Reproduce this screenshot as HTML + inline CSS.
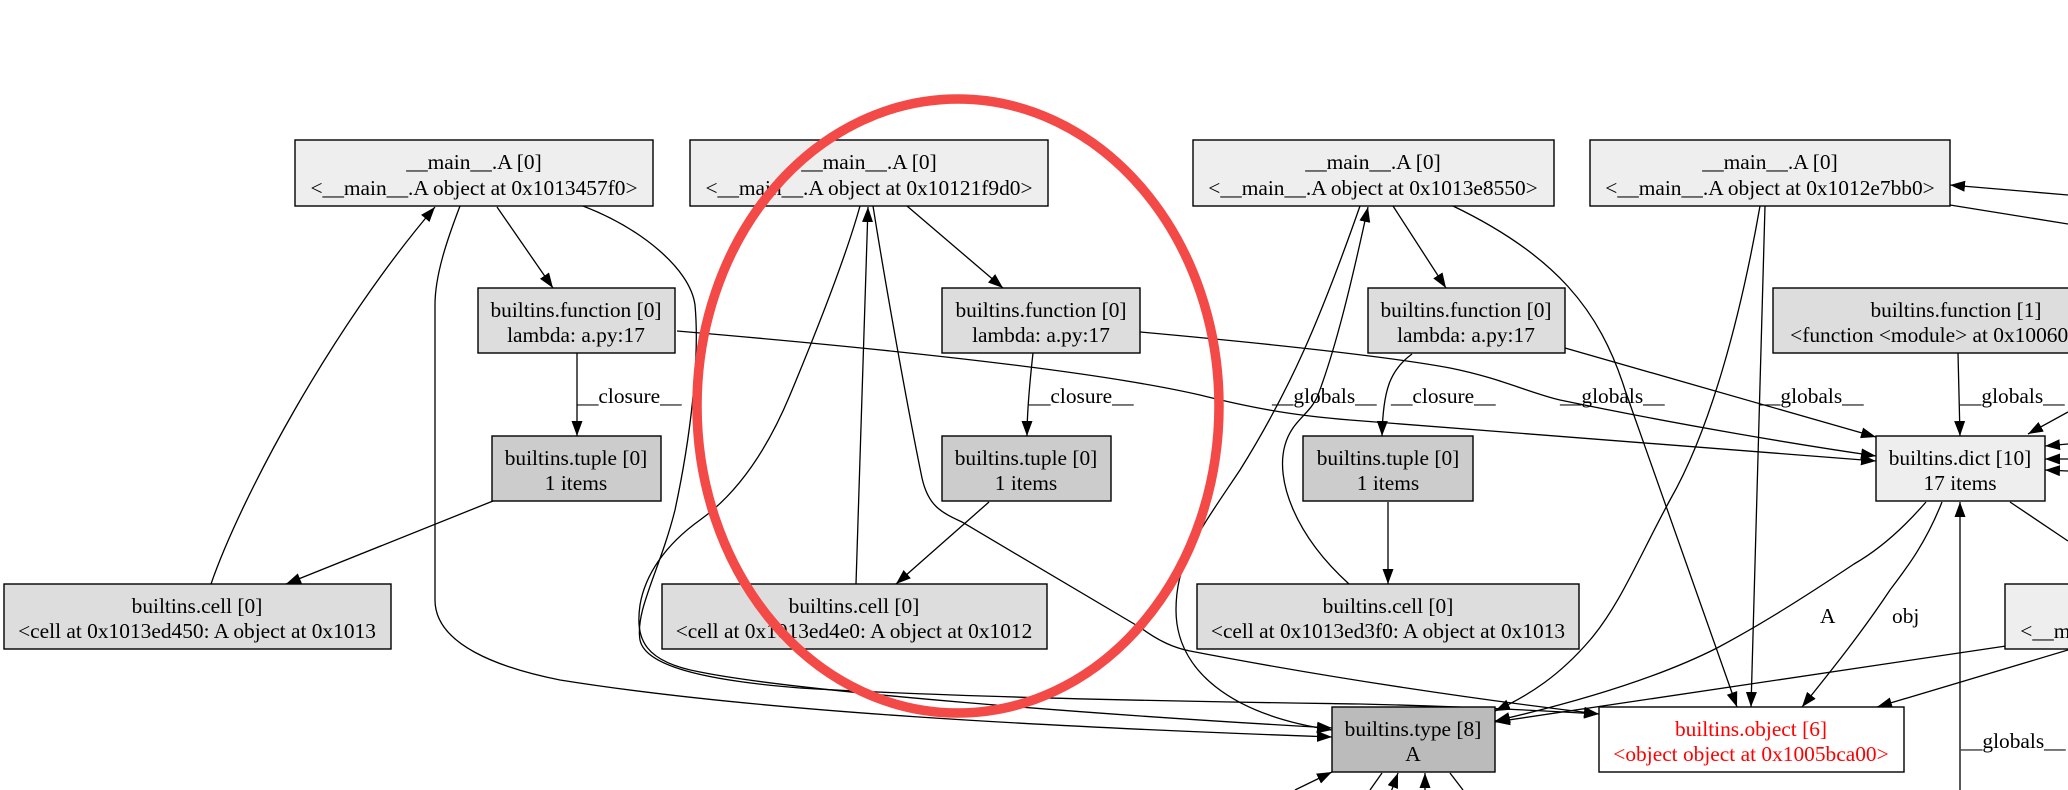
<!DOCTYPE html>
<html><head><meta charset="utf-8"><style>
html,body{margin:0;padding:0;background:#fff;width:2068px;height:790px;overflow:hidden}
svg{display:block}
text{font-family:"Liberation Serif","Times New Roman",serif;font-size:21.4px;fill:#000}
.n{stroke:#000;stroke-width:1.4}
.e{fill:none;stroke:#000;stroke-width:1.3}
</style></head><body>
<svg width="2068" height="790" viewBox="0 0 2068 790" xmlns="http://www.w3.org/2000/svg">
<defs>
<marker id="a" markerWidth="16" markerHeight="12" refX="15" refY="5.5" orient="auto" markerUnits="userSpaceOnUse"><path d="M0,0 L15,5.5 L0,11 z" fill="#000"/></marker>
</defs>

<!-- edges -->
<g class="e">
<path d="M497,207 L553,288" marker-end="url(#a)"/>
<path d="M460,206 C447,240 435,275 435,305 L435,600 C435,645 500,668 560,680 C760,712 1050,727 1332,737" marker-end="url(#a)"/>
<path d="M583,206 C640,228 690,268 695,305 C700,360 690,440 675,510 C660,570 635,610 640,640 C645,665 700,680 800,688 C1000,700 1300,703 1360,704 C1450,706 1530,710 1599,714" marker-end="url(#a)"/>
<path d="M211,584 C240,500 330,330 435,207" marker-end="url(#a)"/>
<path d="M493,501 L286,584" marker-end="url(#a)"/>
<path d="M577,353 L577,436" marker-end="url(#a)"/>
<path d="M677,331 C900,350 1100,372 1200,395 C1260,410 1300,416 1350,420 L1876,461" marker-end="url(#a)"/>
<path d="M1140,332 C1250,342 1380,355 1450,368 C1500,378 1530,393 1560,400 C1680,425 1800,445 1876,456" marker-end="url(#a)"/>
<path d="M1565,348 L1876,437" marker-end="url(#a)"/>
<path d="M1958,353 L1960,436" marker-end="url(#a)"/>
<path d="M907,206 L1003,288" marker-end="url(#a)"/>
<path d="M856,584 L868,207" marker-end="url(#a)"/>
<path d="M860,206 C845,260 815,335 790,395 C765,455 735,495 700,520 C665,545 645,575 640,605 C635,640 645,662 700,672 C800,692 1100,715 1332,728" marker-end="url(#a)"/>
<path d="M873,206 C888,300 910,420 922,478 C928,505 940,512 962,522 L1141,628 C1160,642 1175,648 1190,651 C1330,678 1480,700 1599,714" marker-end="url(#a)"/>
<path d="M1033,353 C1030,380 1027,410 1027,436" marker-end="url(#a)"/>
<path d="M989,502 L896,584" marker-end="url(#a)"/>
<path d="M1393,206 L1446,288" marker-end="url(#a)"/>
<path d="M1349,584 C1295,535 1275,480 1285,445 C1292,420 1310,415 1318,395 C1335,350 1350,290 1368,207" marker-end="url(#a)"/>
<path d="M1360,206 C1320,320 1290,390 1240,470 C1200,530 1176,560 1176,610 C1176,670 1230,715 1332,730" marker-end="url(#a)"/>
<path d="M1453,206 C1555,255 1600,310 1625,390 L1737,707" marker-end="url(#a)"/>
<path d="M1412,354 C1390,370 1383,390 1382,436" marker-end="url(#a)"/>
<path d="M1388,502 L1388,584" marker-end="url(#a)"/>
<path d="M1760,206 C1740,320 1710,430 1670,500 C1640,555 1620,605 1590,640 C1560,675 1530,695 1495,711" marker-end="url(#a)"/>
<path d="M1765,206 L1751,707" marker-end="url(#a)"/>
<path d="M2068,195 L1950,185" marker-end="url(#a)"/>
<path d="M1950,205 L2068,224"/>
<path d="M1926,502 C1900,532 1875,552 1854,564 C1800,600 1760,625 1717,648 C1650,682 1560,706 1495,721" marker-end="url(#a)"/>
<path d="M1942,502 C1925,545 1905,570 1890,590 C1860,635 1830,672 1802,707" marker-end="url(#a)"/>
<path d="M2010,502 L2068,541"/>
<path d="M2006,646 L1495,722" marker-end="url(#a)"/>
<path d="M2068,650 L1877,707" marker-end="url(#a)"/>
<path d="M1960,790 L1960,502" marker-end="url(#a)"/>
<path d="M2068,444 L2045,446" marker-end="url(#a)"/>
<path d="M2068,459 L2045,459" marker-end="url(#a)"/>
<path d="M2068,471 L2045,470" marker-end="url(#a)"/>
<path d="M2068,412 L2028,434" marker-end="url(#a)"/>
<path d="M1295,790 L1332,772" marker-end="url(#a)"/>
<path d="M1370,790 L1382,773"/>
<path d="M1391,792 L1398,773" marker-end="url(#a)"/>
<path d="M1425,792 L1425,773" marker-end="url(#a)"/>
<path d="M1450,773 L1463,790"/>
</g>

<!-- edge labels -->
<text x="577" y="403">__closure__</text>
<text x="1029" y="403">__closure__</text>
<text x="1391" y="403">__closure__</text>
<text x="1272" y="403">__globals__</text>
<text x="1560" y="403">__globals__</text>
<text x="1759" y="403">__globals__</text>
<text x="1960" y="403">__globals__</text>
<text x="1820" y="623">A</text>
<text x="1892" y="623">obj</text>
<text x="1961" y="748">__globals__</text>

<!-- nodes -->
<g class="n">
<rect x="295" y="140" width="358" height="66" fill="#eeeeee"/>
<rect x="690" y="140" width="358" height="66" fill="#eeeeee"/>
<rect x="1193" y="140" width="361" height="66" fill="#eeeeee"/>
<rect x="1590" y="140" width="360" height="66" fill="#eeeeee"/>
<rect x="478" y="288" width="197" height="65" fill="#dddddd"/>
<rect x="942" y="288" width="198" height="65" fill="#dddddd"/>
<rect x="1368" y="288" width="197" height="65" fill="#dddddd"/>
<rect x="1773" y="288" width="370" height="65" fill="#dddddd"/>
<rect x="492" y="436" width="169" height="65" fill="#cccccc"/>
<rect x="942" y="436" width="169" height="65" fill="#cccccc"/>
<rect x="1303" y="436" width="170" height="65" fill="#cccccc"/>
<rect x="1876" y="436" width="169" height="65" fill="#eeeeee"/>
<rect x="4" y="584" width="387" height="65" fill="#dddddd"/>
<rect x="662" y="584" width="385" height="65" fill="#dddddd"/>
<rect x="1197" y="584" width="382" height="65" fill="#dddddd"/>
<rect x="2005" y="584" width="360" height="65" fill="#eeeeee"/>
<rect x="1332" y="707" width="163" height="65" fill="#bbbbbb"/>
<rect x="1599" y="707" width="305" height="65" fill="#ffffff"/>
</g>

<g text-anchor="middle">
<text x="474" y="169">__main__.A [0]</text>
<text x="474" y="195">&lt;__main__.A object at 0x1013457f0&gt;</text>
<text x="869" y="169">__main__.A [0]</text>
<text x="869" y="195">&lt;__main__.A object at 0x10121f9d0&gt;</text>
<text x="1373" y="169">__main__.A [0]</text>
<text x="1373" y="195">&lt;__main__.A object at 0x1013e8550&gt;</text>
<text x="1770" y="169">__main__.A [0]</text>
<text x="1770" y="195">&lt;__main__.A object at 0x1012e7bb0&gt;</text>

<text x="576" y="317">builtins.function [0]</text>
<text x="576" y="342">lambda: a.py:17</text>
<text x="1041" y="317">builtins.function [0]</text>
<text x="1041" y="342">lambda: a.py:17</text>
<text x="1466" y="317">builtins.function [0]</text>
<text x="1466" y="342">lambda: a.py:17</text>
<text x="1956" y="317">builtins.function [1]</text>
<text x="1956" y="342">&lt;function &lt;module&gt; at 0x1006044a0&gt;</text>

<text x="576" y="465">builtins.tuple [0]</text>
<text x="576" y="490">1 items</text>
<text x="1026" y="465">builtins.tuple [0]</text>
<text x="1026" y="490">1 items</text>
<text x="1388" y="465">builtins.tuple [0]</text>
<text x="1388" y="490">1 items</text>
<text x="1960" y="465">builtins.dict [10]</text>
<text x="1960" y="490">17 items</text>

<text x="197" y="613">builtins.cell [0]</text>
<text x="197" y="638">&lt;cell at 0x1013ed450: A object at 0x1013</text>
<text x="854" y="613">builtins.cell [0]</text>
<text x="854" y="638">&lt;cell at 0x1013ed4e0: A object at 0x1012</text>
<text x="1388" y="613">builtins.cell [0]</text>
<text x="1388" y="638">&lt;cell at 0x1013ed3f0: A object at 0x1013</text>
<text x="2185" y="613">__main__.A [0]</text>
<text x="2185" y="638">&lt;__main__.A object at 0x1013e8b20&gt;</text>

<text x="1413" y="736">builtins.type [8]</text>
<text x="1413" y="761">A</text>
<text x="1751" y="736" style="fill:#ff0000">builtins.object [6]</text>
<text x="1751" y="761" style="fill:#ff0000">&lt;object object at 0x1005bca00&gt;</text>
</g>

<!-- red annotation ellipse -->
<ellipse cx="958" cy="406" rx="261" ry="307" fill="none" stroke="#f34a48" stroke-width="9.5"/>
</svg>
</body></html>
